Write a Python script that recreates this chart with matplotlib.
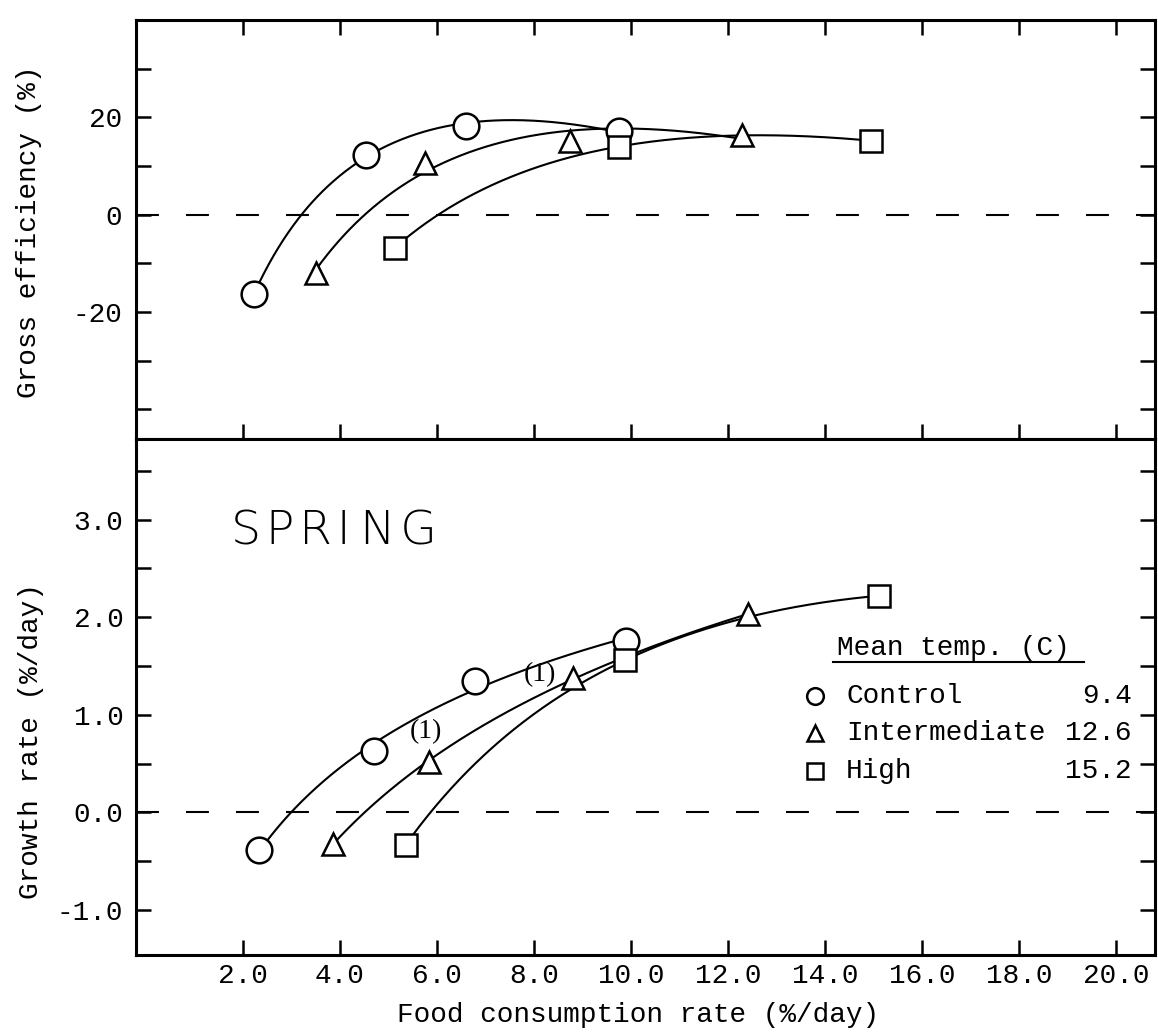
import numpy as np
import matplotlib.pyplot as plt

# gross efficiency (%) vs food consumption rate (%/day), top panel
eff_control_x = [2.24, 4.54, 6.60, 9.75]
eff_control_y = [-16.2, 12.3, 18.3, 17.1]
eff_inter_x = [3.51, 5.75, 8.74, 12.29]
eff_inter_y = [-11.9, 10.7, 15.2, 16.3]
eff_high_x = [5.13, 9.75, 14.95]
eff_high_y = [-6.8, 14.0, 15.2]

# growth rate (%/day) vs food consumption rate (%/day), bottom panel
gr_control_x = [2.34, 4.71, 6.79, 9.90]
gr_control_y = [-0.38, 0.63, 1.35, 1.76]
gr_inter_x = [3.86, 5.84, 8.81, 12.42]
gr_inter_y = [-0.32, 0.52, 1.38, 2.03]
gr_high_x = [5.36, 9.88, 15.11]
gr_high_y = [-0.33, 1.56, 2.22]

# the two "(1)" notes on the growth panel
note_x = [5.77, 8.12]
note_y = [0.83, 1.41]

groups = ["Control", "Intermediate", "High"]
mean_temps = ["9.4", "12.6", "15.2"]
markers = ["o", "^", "s"]
marker_sizes = [18.5, 16, 16]

x_ticks = [2, 4, 6, 8, 10, 12, 14, 16, 18, 20]
x_tick_labels = ["2.0", "4.0", "6.0", "8.0", "10.0", "12.0", "14.0", "16.0", "18.0", "20.0"]
eff_ticks = [-40, -30, -20, -10, 0, 10, 20, 30]
eff_tick_labels = ["", "", "-20", "", "0", "", "20", ""]
gr_ticks = [-1.0, -0.5, 0.0, 0.5, 1.0, 1.5, 2.0, 2.5, 3.0, 3.5]
gr_tick_labels = ["-1.0", "", "0.0", "", "1.0", "", "2.0", "", "3.0", ""]

MONO = ["Liberation Mono", "DejaVu Sans Mono"]
FS = 20


def draw_series(ax, x, y, marker, size):
    x = np.asarray(x, dtype=float)
    y = np.asarray(y, dtype=float)
    # smooth saturating curve (a + b ln x + c x) fitted to the points
    basis = np.column_stack([np.ones_like(x), np.log(x), x])
    coef = np.linalg.lstsq(basis, y, rcond=None)[0]
    xs = np.linspace(x.min(), x.max(), 300)
    ys = coef[0] + coef[1] * np.log(xs) + coef[2] * xs
    ax.plot(xs, ys, color="black", lw=1.5, zorder=2)
    ax.plot(x, y, linestyle="none", marker=marker, ms=size, mfc="white",
            mec="black", mew=1.8, zorder=3)


def style_axes(ax):
    for s in ax.spines.values():
        s.set_linewidth(2.2)
    ax.set_xlim(-0.2, 20.8)
    ax.axhline(0, color="black", lw=1.5, dashes=(11, 13), zorder=1)


fig = plt.figure(figsize=(11.58, 10.32), dpi=100)
ax_top = fig.add_axes([0.1174, 0.575, 0.88, 0.4056])
ax_bot = fig.add_axes([0.1174, 0.0746, 0.88, 0.5004])

# top panel
style_axes(ax_top)
ax_top.set_ylim(-46, 40)
draw_series(ax_top, eff_control_x, eff_control_y, markers[0], marker_sizes[0])
draw_series(ax_top, eff_inter_x, eff_inter_y, markers[1], marker_sizes[1])
draw_series(ax_top, eff_high_x, eff_high_y, markers[2], marker_sizes[2])
ax_top.set_xticks(x_ticks, labels=[""] * len(x_ticks))
ax_top.set_yticks(eff_ticks, labels=eff_tick_labels)
ax_top.tick_params(direction="in", length=11, width=1.8, top=True, right=True,
                   bottom=True, labelsize=FS, pad=10)
for lab in ax_top.get_yticklabels():
    lab.set_family(MONO)

# bottom panel
style_axes(ax_bot)
ax_bot.set_ylim(-1.46, 3.83)
draw_series(ax_bot, gr_control_x, gr_control_y, markers[0], marker_sizes[0])
draw_series(ax_bot, gr_inter_x, gr_inter_y, markers[1], marker_sizes[1])
draw_series(ax_bot, gr_high_x, gr_high_y, markers[2], marker_sizes[2])
ax_bot.set_xticks(x_ticks, labels=x_tick_labels)
ax_bot.set_yticks(gr_ticks, labels=gr_tick_labels)
ax_bot.tick_params(direction="in", length=11, width=1.8, top=False, right=True,
                   labelsize=FS)
ax_bot.tick_params(axis="y", pad=9)
ax_bot.tick_params(axis="x", pad=6)
for lab in ax_bot.get_yticklabels() + ax_bot.get_xticklabels():
    lab.set_family(MONO)

for nx, ny in zip(note_x, note_y):
    ax_bot.text(nx, ny, "(1)", family="Liberation Serif", fontsize=20,
                ha="center", va="center")

ax_bot.text(3.88, 2.88, "S\u200aP\u200aR\u200aI\u2009N\u200aG", family="DejaVu Sans",
            fontweight="light", fontsize=34, ha="center", va="center")

# legend block
ax_bot.text(0.688, 0.594, "Mean temp. (C)", family=MONO, fontsize=FS,
            ha="left", va="center", transform=ax_bot.transAxes)
ax_bot.plot([0.684, 0.930], [0.567, 0.567], color="black", lw=1.5,
            transform=ax_bot.transAxes, clip_on=False)
row_y = [0.5015, 0.430, 0.356]
for name, temp, mk, ry in zip(groups, mean_temps, markers, row_y):
    ax_bot.plot(0.666, ry, marker=mk, ms=12, mfc="white", mec="black", mew=1.8,
                transform=ax_bot.transAxes, clip_on=False)
    ax_bot.text(0.697, ry, name, family=MONO, fontsize=FS, ha="left",
                va="center", transform=ax_bot.transAxes)
    ax_bot.text(0.977, ry, temp, family=MONO, fontsize=FS, ha="right",
                va="center", transform=ax_bot.transAxes)

fig.text(0.025, 0.775, "Gross efficiency (%)", family=MONO, fontsize=FS,
         rotation=90, ha="center", va="center")
fig.text(0.027, 0.282, "Growth rate (%/day)", family=MONO, fontsize=FS,
         rotation=90, ha="center", va="center")
fig.text(0.551, 0.0165, "Food consumption rate (%/day)", family=MONO,
         fontsize=FS, ha="center", va="center")

fig.savefig("out.png", dpi=100)
